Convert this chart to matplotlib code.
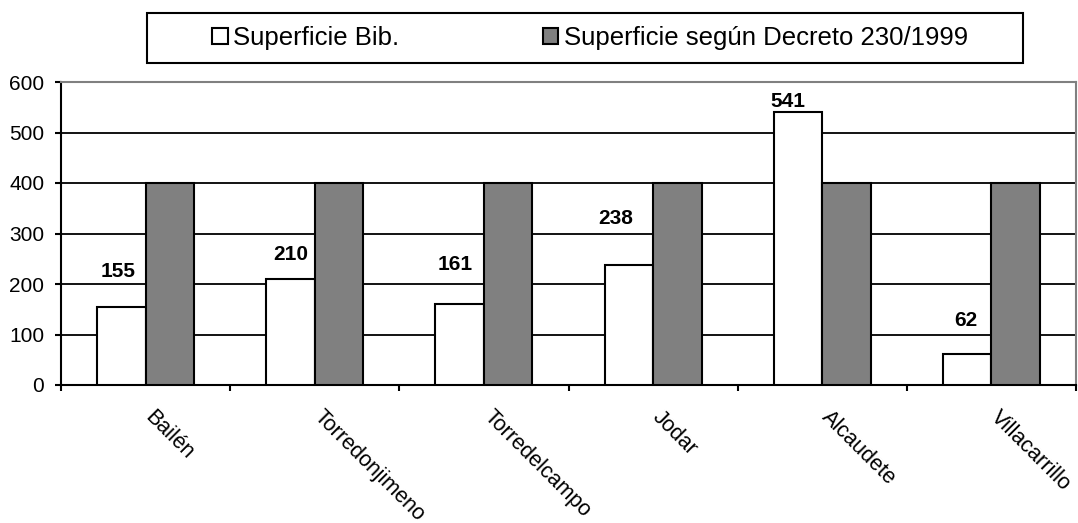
import matplotlib
matplotlib.use("Agg")
import matplotlib.pyplot as plt
import numpy as np
from matplotlib.patches import Patch, Rectangle
from matplotlib.transforms import ScaledTranslation

plt.rcParams['font.family'] = ['Liberation Sans', 'DejaVu Sans']

categories = ["Bailén", "Torredonjimeno", "Torredelcampo", "Jodar", "Alcaudete", "Villacarrillo"]
superficie_bib = [155, 210, 161, 238, 541, 62]
superficie_decreto = [400, 400, 400, 400, 400, 400]
series_names = ["Superficie Bib.", "Superficie según Decreto 230/1999"]
yticks = [0, 100, 200, 300, 400, 500, 600]

# label offsets in pixels (style only)
lab_dx = [-3, 0, -4, -13, -10, -1]
lab_dy = [30, 19, 34, 41, 5, 28]

W, H = 1078, 523
fig = plt.figure(figsize=(W / 100, H / 100), dpi=100)
ax = fig.add_axes([61 / W, (H - 385) / H, (1076 - 61) / W, (385 - 82) / H])

x = np.arange(len(categories)) + 0.5
bw = 0.287
ax.bar(x, superficie_bib, width=-bw, align='edge', color='white',
       edgecolor='black', linewidth=1.5, zorder=3)
ax.bar(x, superficie_decreto, width=bw, align='edge', color='#808080',
       edgecolor='black', linewidth=1.5, zorder=3)

for xi, v, dx, dy in zip(x, superficie_bib, lab_dx, lab_dy):
    ax.annotate(str(v), xy=(xi - bw / 2, v), xytext=(dx, dy),
                textcoords='offset pixels', ha='center', va='baseline',
                fontsize=15, fontweight='bold', zorder=4)

ax.set_xlim(0, len(categories))
ax.set_ylim(0, 600)
ax.set_yticks(yticks)
ax.set_yticklabels([str(t) for t in yticks], fontsize=15)
for t in yticks[1:-1]:
    ax.axhline(t, color='black', linewidth=1.3, zorder=1)

ax.set_xticks(x)
ax.set_xticklabels(categories, rotation=-45, ha='left', va='top',
                   rotation_mode='anchor', fontsize=15.5)
ax.set_xticks(np.arange(len(categories) + 1), minor=True)
ax.tick_params(axis='x', which='major', length=0, pad=15.5)
ax.tick_params(axis='x', which='minor', length=4.5, width=1.5, direction='out', color='black')
ax.tick_params(axis='y', length=4.5, width=1.5, direction='out', pad=7.5)
offset = ScaledTranslation(10 / 100, 0, fig.dpi_scale_trans)
for lab in ax.get_xticklabels():
    lab.set_transform(lab.get_transform() + offset)

for s in ['left', 'bottom']:
    ax.spines[s].set_color('black')
    ax.spines[s].set_linewidth(1.5)
for s in ['top', 'right']:
    ax.spines[s].set_color('#808080')
    ax.spines[s].set_linewidth(1.5)

handles = [Patch(facecolor='white', edgecolor='black', linewidth=1.5),
           Patch(facecolor='#808080', edgecolor='black', linewidth=1.5)]
leg = fig.legend(handles, series_names, loc='center',
                 bbox_to_anchor=(590 / W, 1 - 38 / H),
                 ncol=2, fontsize=18.5, frameon=False,
                 handlelength=0.6, handleheight=0.6,
                 handletextpad=0.2, columnspacing=5.6, borderpad=0.3,
                 borderaxespad=0)
fig.patches.append(Rectangle((147 / W, 1 - 63 / H), 876 / W, 50 / H,
                             fill=False, edgecolor='black', linewidth=1.5,
                             transform=fig.transFigure, figure=fig))
fig.savefig("out.png", dpi=100)
